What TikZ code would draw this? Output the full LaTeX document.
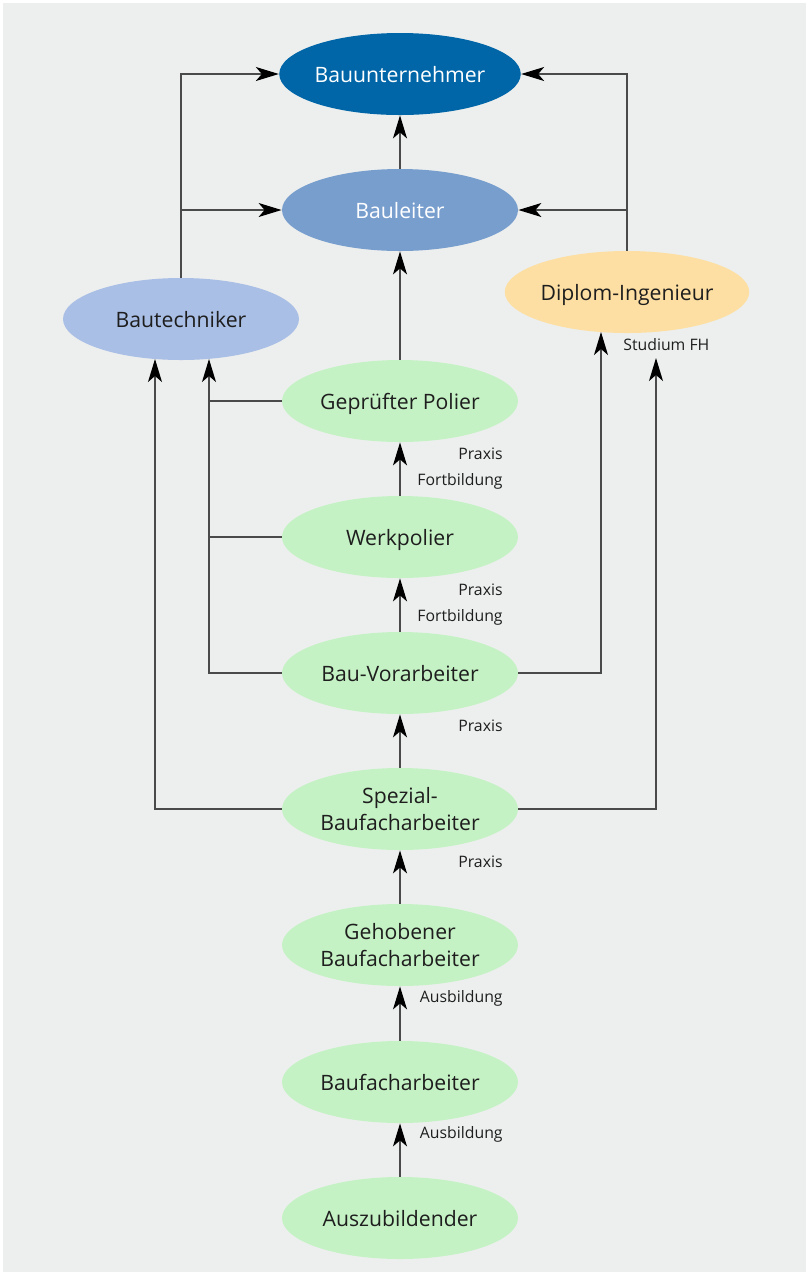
\documentclass[tikz,border=0pt]{standalone}
\usepackage{fontspec}
\setmainfont{Open Sans}
\usetikzlibrary{shapes.geometric,arrows.meta}
\definecolor{bgc}{HTML}{EDEFEE}
\definecolor{cbu}{HTML}{0066A8}
\definecolor{cbl}{HTML}{789ECE}
\definecolor{cbt}{HTML}{A9BFE5}
\definecolor{cdi}{HTML}{FDDFA3}
\definecolor{cgr}{HTML}{C5F2C4}
\definecolor{txt}{HTML}{1E1E1E}
\definecolor{lin}{HTML}{4A4A4A}
\begin{document}
\begin{tikzpicture}[x=0.5pt,y=-0.5pt,
  oval/.style={ellipse,inner sep=0pt,minimum width=118pt,minimum height=41pt,
    text=txt,font=\fontsize{10.6}{13.5}\selectfont,align=center,text depth=0pt},
  lab/.style={anchor=east,text=txt,font=\fontsize{7.9}{9}\selectfont,inner sep=0pt},
  conn/.style={draw=lin,line width=0.65pt},
  arr/.style={conn,-{Stealth[length=11.5pt,width=7pt,inset=3pt,color=black]}}]
\useasboundingbox (0,0) rectangle (810,1276);
\fill[bgc] (3,3) rectangle (806,1272);
\node[oval,fill=cbu,text=white] (bu) at (400,74) {Bauunternehmer};
\node[oval,fill=cbl,text=white] (bl) at (400,210) {Bauleiter};
\node[oval,fill=cdi] (di) at (627,292) {Diplom-Ingenieur};
\node[oval,fill=cbt] (bt) at (181,319) {Bautechniker};
\node[oval,fill=cgr] (gp) at (400,401) {Geprüfter Polier};
\node[oval,fill=cgr] (wp) at (400,537) {Werkpolier};
\node[oval,fill=cgr] (bv) at (400,673) {Bau-Vorarbeiter};
\node[oval,fill=cgr] (sb) at (400,809) {Spezial-\\Baufacharbeiter};
\node[oval,fill=cgr] (gb) at (400,945) {Gehobener\\Baufacharbeiter};
\node[oval,fill=cgr] (bf) at (400,1082) {Baufacharbeiter};
\node[oval,fill=cgr] (az) at (400,1218) {Auszubildender};
\coordinate (t1) at (155,359);
\coordinate (t2) at (209,359);
\coordinate (d1) at (601,332);
\coordinate (d2) at (656,358);
\node[lab] (l1) at (503,454) {Praxis};
\node[lab] (l2) at (503,481) {Fortbildung};
\node[lab] (l3) at (503,590) {Praxis};
\node[lab] (l4) at (503,617) {Fortbildung};
\node[lab] (l5) at (503,726) {Praxis};
\node[lab] (l6) at (503,862) {Praxis};
\node[lab] (l7) at (503,998) {Ausbildung};
\node[lab] (l8) at (503,1134) {Ausbildung};
\node[lab,anchor=west] (l9) at (623,345) {Studium FH};
\draw[arr] (bl) -- (bu);
\draw[arr] (bt.north) |- (bu.west);
\draw[arr] (bt.north |- bl.west) -- (bl.west);
\draw[arr] (di.north) |- (bu.east);
\draw[arr] (di.north |- bl.east) -- (bl.east);
\draw[arr] (gp) -- (bl);
\draw[arr] (wp) -- (gp);
\draw[arr] (bv) -- (wp);
\draw[arr] (sb) -- (bv);
\draw[arr] (gb) -- (sb);
\draw[arr] (bf) -- (gb);
\draw[arr] (az) -- (bf);
\draw[arr] (bv.west) -| (t2);
\draw[conn] (gp.west) -- (gp.west -| t2);
\draw[conn] (wp.west) -- (wp.west -| t2);
\draw[arr] (sb.west) -| (t1);
\draw[arr] (bv.east) -| (d1);
\draw[arr] (sb.east) -| (d2);
\end{tikzpicture}
\end{document}
